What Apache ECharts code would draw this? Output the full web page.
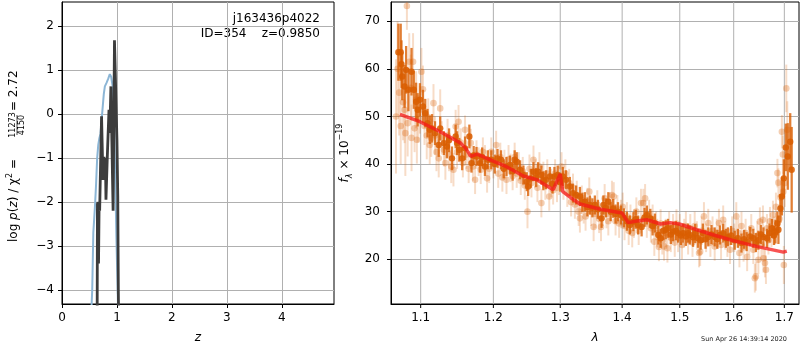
<!DOCTYPE html>
<html>
<head>
<meta charset="utf-8" />
<title>redshift fit</title>
<script src="https://cdn.jsdelivr.net/npm/echarts@6/dist/echarts.min.js"></script>
<style>
  body { margin: 0; background: #fff; }
</style>
</head>
<body>
<div id="main" style="width: 800px;height:350px;"></div>
<script type="text/javascript">
// left panel: log p(z)
var zBlue = [0.53, 0.55, 0.57, 0.60, 0.62, 0.64, 0.66, 0.68, 0.70, 0.73, 0.76, 0.78, 0.81, 0.84, 0.87, 0.895, 0.92, 0.94, 0.95, 0.96, 0.975, 0.99, 1.005, 1.02, 1.03];
var logpBlue = [-4.6, -4.0, -2.7, -2.1, -1.6, -1.0, -0.7, -0.55, -0.45, 0.0, 0.45, 0.63, 0.71, 0.8, 0.91, 0.85, 0.65, 0.2, -0.1, -0.9, -1.8, -2.8, -3.6, -4.4, -5.0];
var zDark = [0.64, 0.645, 0.655, 0.665, 0.675, 0.685, 0.72, 0.745, 0.765, 0.775, 0.79, 0.80, 0.825, 0.855, 0.87, 0.89, 0.93, 0.955, 0.985, 1.0, 1.015, 1.025, 1.03];
var logpDark = [-4.6, -2.05, -2.0, -3.4, -2.1, -2.2, -0.05, -1.5, -0.97, -1.4, -1.0, -1.95, -0.95, 0.1, -0.43, 0.63, -2.2, 1.68, 1.68, -0.6, -1.87, -4.0, -4.6];
var zTicks = [0, 1, 2, 3, 4];
var logpTicks = [-4, -3, -2, -1, 0, 1, 2];

// right panel: spectrum (two sets) and model
var darkWave = [1.071, 1.074, 1.075, 1.076, 1.079, 1.081, 1.084, 1.088, 1.091, 1.094, 1.096, 1.099, 1.103, 1.106, 1.109, 1.112, 1.115, 1.119, 1.124, 1.126, 1.131, 1.135, 1.138, 1.142, 1.147, 1.149, 1.152, 1.156, 1.160, 1.166, 1.169, 1.172, 1.176, 1.181, 1.184, 1.188, 1.192, 1.197, 1.202, 1.206, 1.211, 1.215, 1.219, 1.224, 1.228, 1.231, 1.234, 1.239, 1.244, 1.249, 1.251, 1.255, 1.259, 1.263, 1.266, 1.271, 1.274, 1.278, 1.284, 1.288, 1.291, 1.296, 1.300, 1.304, 1.309, 1.315, 1.320, 1.325, 1.331, 1.335, 1.339, 1.343, 1.347, 1.351, 1.355, 1.360, 1.366, 1.369, 1.373, 1.377, 1.381, 1.385, 1.389, 1.393, 1.398, 1.403, 1.408, 1.413, 1.419, 1.423, 1.427, 1.433, 1.438, 1.442, 1.448, 1.452, 1.456, 1.462, 1.466, 1.471, 1.475, 1.479, 1.484, 1.488, 1.493, 1.497, 1.502, 1.506, 1.511, 1.515, 1.518, 1.524, 1.528, 1.533, 1.538, 1.542, 1.547, 1.552, 1.558, 1.564, 1.569, 1.574, 1.580, 1.585, 1.589, 1.595, 1.602, 1.608, 1.615, 1.620, 1.625, 1.632, 1.638, 1.643, 1.648, 1.653, 1.658, 1.665, 1.670, 1.675, 1.679, 1.682, 1.686, 1.688, 1.692, 1.695, 1.699, 1.703, 1.707, 1.712, 1.715];
var darkFlux = [63.5, 63.5, 61.0, 58.4, 56.3, 59.8, 55.6, 59.4, 55.6, 53.1, 51.4, 53.5, 52.1, 50.7, 48.6, 47.2, 47.5, 46.5, 44.0, 47.5, 44.4, 43.7, 45.0, 41.2, 45.8, 44.4, 43.0, 41.2, 43.3, 45.8, 40.2, 41.8, 41.6, 40.2, 41.5, 39.5, 40.9, 40.9, 40.0, 41.2, 40.9, 39.0, 39.5, 39.8, 38.5, 40.9, 40.5, 38.8, 37.7, 36.3, 35.3, 37.0, 38.4, 37.2, 38.4, 37.7, 36.5, 36.7, 37.4, 35.8, 37.4, 37.7, 36.2, 37.4, 36.7, 35.3, 33.9, 33.5, 33.2, 32.0, 32.1, 31.0, 31.4, 30.8, 31.4, 30.5, 28.6, 31.4, 30.8, 32.1, 30.0, 30.7, 29.5, 30.0, 29.3, 28.7, 28.0, 27.2, 27.9, 28.4, 27.2, 26.8, 28.8, 29.3, 28.6, 27.0, 27.6, 25.1, 24.4, 26.0, 26.2, 26.5, 25.2, 25.8, 26.0, 25.5, 25.0, 25.5, 24.8, 25.5, 25.1, 24.6, 25.4, 24.4, 24.0, 25.5, 24.2, 24.7, 25.2, 24.7, 24.2, 25.1, 25.5, 24.4, 24.7, 25.0, 24.0, 24.4, 23.4, 24.2, 23.7, 24.8, 24.4, 23.5, 24.0, 25.2, 24.7, 24.4, 25.5, 26.5, 25.0, 25.8, 27.5, 26.2, 30.7, 33.2, 37.0, 43.5, 41.6, 44.7, 38.8];
var darkErr = [6, 6, 5, 5, 4.5, 5, 4.5, 5, 4, 4, 3.5, 3.5, 3.5, 3, 3, 3, 3, 2.5, 2.5, 2.5, 2.5, 2.5, 2.5, 2.5, 2.5, 2.5, 2.5, 2.5, 2.5, 2.5, 2, 2, 2, 2, 2, 2, 2, 2, 2, 2, 2, 2, 2, 2, 2, 2, 2, 2, 2, 2, 2, 2, 2, 2, 2, 2, 2, 2, 2, 2, 2, 2, 2, 2, 2, 2, 2, 2, 2, 2, 2, 2, 2, 2, 2, 2, 2, 2, 2, 2, 2, 2, 2, 2, 2, 2, 2, 2, 2, 2, 2, 2, 2, 2, 2, 2, 2, 2, 2, 2, 2, 2, 2, 2, 2, 2, 2, 2, 2, 2, 2, 2, 2, 2, 2, 2, 2, 2, 2, 2, 2, 2, 2, 2, 2, 2, 2, 2, 2, 2, 2, 2, 2, 2, 2, 2, 2, 2, 2, 2, 2, 2.5, 2.5, 3, 3, 4, 4, 5, 7, 6, 9, 15];

var lightWave = [1.068, 1.070, 1.072, 1.074, 1.077, 1.079, 1.080, 1.082, 1.083, 1.085, 1.087, 1.088, 1.090, 1.092, 1.094, 1.095, 1.097, 1.099, 1.101, 1.103, 1.105, 1.108, 1.110, 1.112, 1.114, 1.117, 1.119, 1.121, 1.124, 1.126, 1.128, 1.131, 1.133, 1.136, 1.138, 1.141, 1.144, 1.147, 1.149, 1.151, 1.154, 1.157, 1.160, 1.162, 1.165, 1.168, 1.171, 1.174, 1.176, 1.179, 1.182, 1.185, 1.188, 1.191, 1.194, 1.197, 1.200, 1.204, 1.207, 1.210, 1.213, 1.216, 1.219, 1.222, 1.225, 1.228, 1.231, 1.234, 1.237, 1.240, 1.243, 1.246, 1.250, 1.253, 1.256, 1.259, 1.262, 1.265, 1.268, 1.271, 1.274, 1.277, 1.280, 1.283, 1.286, 1.289, 1.292, 1.295, 1.298, 1.302, 1.305, 1.308, 1.311, 1.314, 1.317, 1.320, 1.323, 1.326, 1.329, 1.331, 1.334, 1.337, 1.340, 1.343, 1.346, 1.349, 1.353, 1.356, 1.359, 1.362, 1.365, 1.368, 1.371, 1.374, 1.377, 1.380, 1.383, 1.386, 1.389, 1.392, 1.395, 1.398, 1.401, 1.404, 1.408, 1.411, 1.414, 1.417, 1.420, 1.424, 1.428, 1.432, 1.436, 1.439, 1.442, 1.446, 1.449, 1.452, 1.455, 1.458, 1.460, 1.463, 1.466, 1.469, 1.472, 1.475, 1.478, 1.481, 1.484, 1.488, 1.491, 1.494, 1.497, 1.500, 1.504, 1.508, 1.511, 1.515, 1.519, 1.523, 1.527, 1.531, 1.535, 1.537, 1.540, 1.544, 1.548, 1.552, 1.556, 1.560, 1.564, 1.568, 1.572, 1.576, 1.580, 1.584, 1.588, 1.593, 1.597, 1.601, 1.605, 1.609, 1.611, 1.615, 1.619, 1.623, 1.626, 1.630, 1.634, 1.638, 1.641, 1.643, 1.646, 1.648, 1.651, 1.654, 1.657, 1.658, 1.661, 1.663, 1.665, 1.668, 1.671, 1.674, 1.677, 1.680, 1.683, 1.686, 1.688, 1.690, 1.692, 1.695, 1.697, 1.698, 1.699, 1.701, 1.704, 1.706];
var lightFlux = [50.0, 60.0, 55.0, 48.0, 53.0, 51.4, 46.5, 73.2, 48.6, 61.5, 56.0, 45.5, 61.5, 47.5, 53.5, 45.1, 49.5, 51.4, 59.4, 55.7, 48.0, 46.0, 49.8, 44.0, 45.5, 52.8, 46.0, 42.5, 41.2, 51.7, 45.5, 43.0, 40.2, 46.0, 42.0, 39.5, 38.8, 47.9, 42.5, 48.9, 44.5, 40.2, 47.2, 42.0, 39.0, 44.4, 39.5, 36.7, 42.0, 40.5, 38.8, 42.6, 41.0, 37.0, 39.0, 42.6, 40.0, 44.0, 38.0, 41.5, 37.2, 40.0, 36.7, 41.0, 39.2, 37.5, 41.5, 38.0, 39.5, 36.5, 38.5, 35.5, 30.0, 39.0, 36.0, 40.9, 38.0, 35.0, 39.5, 31.8, 37.5, 35.5, 38.0, 33.2, 36.0, 34.5, 38.0, 35.0, 36.5, 39.5, 35.5, 38.0, 34.0, 36.0, 32.0, 35.0, 31.5, 33.5, 30.0, 28.6, 32.5, 30.5, 29.0, 32.0, 34.2, 30.0, 26.8, 29.5, 31.5, 28.5, 26.8, 30.0, 32.8, 29.5, 28.0, 31.0, 33.5, 33.2, 28.0, 30.5, 27.5, 29.5, 31.0, 27.0, 29.0, 26.0, 28.5, 25.5, 27.5, 30.0, 26.0, 31.8, 31.8, 32.8, 27.5, 29.5, 26.5, 28.5, 23.7, 27.0, 25.5, 22.6, 27.5, 24.0, 22.7, 25.5, 22.3, 27.0, 24.5, 26.5, 23.5, 27.5, 24.5, 26.5, 23.0, 25.5, 27.0, 24.0, 26.5, 23.5, 27.0, 25.0, 21.3, 21.6, 26.0, 29.0, 24.5, 27.6, 23.5, 26.0, 22.7, 25.5, 27.6, 23.0, 28.3, 25.0, 23.5, 22.0, 26.0, 24.5, 29.0, 25.5, 21.3, 27.0, 22.5, 25.5, 20.5, 24.0, 26.5, 22.0, 16.0, 16.4, 25.0, 19.9, 27.9, 23.0, 28.3, 20.2, 19.2, 17.8, 26.5, 24.0, 28.0, 25.5, 29.3, 26.0, 31.0, 38.1, 36.1, 28.5, 33.0, 46.8, 42.0, 34.2, 18.8, 36.0, 55.9, 47.2];
var lightErr = [12, 10, 9, 8, 8, 7, 9, 5, 7, 6, 7, 7, 6, 5, 6, 5, 5, 5, 5, 5, 4, 5, 4, 4, 4, 4, 4, 4, 4, 4, 3.5, 3.5, 3.5, 3.5, 3.5, 3.5, 3.5, 3.5, 3.5, 3.5, 3, 3, 3, 3, 3, 3, 3, 3, 3, 3, 3, 3, 3, 3, 3, 3, 3, 3, 3, 3, 3, 3, 3, 3, 3, 3, 3, 3, 3, 3, 3, 3, 3.5, 3, 3, 3, 3, 3, 3, 3, 3, 3, 3, 3, 3, 3, 3, 3, 3, 3, 3, 3, 3, 3, 3, 3, 3, 3, 3, 3, 3, 3, 3, 3, 3, 3, 3, 3, 3, 3, 3, 3, 3, 3, 3, 3, 3, 3, 3, 3, 3, 3, 3, 3, 3, 3, 3, 3, 3, 3, 3, 3, 3, 3, 3, 3, 3, 3, 3, 3, 3, 3, 3, 3, 3, 3, 3, 3, 3, 3, 3, 3, 3, 3, 3, 3, 3, 3, 3, 3, 3, 3, 3, 3, 3, 3, 3, 3, 3, 3, 3, 3, 3, 3, 3, 3, 3, 3, 3, 3, 3, 3, 3, 3, 3, 3, 3, 3, 3, 3, 3, 3, 3, 3, 3, 3, 3, 3, 3, 3, 3, 3, 3, 3, 3, 3, 3, 3, 3, 3, 3.5, 3.5, 4, 4, 4, 5, 5, 6, 7, 8, 8, 10, 20, 12];

var modelWave = [1.073, 1.099, 1.126, 1.154, 1.161, 1.168, 1.177, 1.199, 1.219, 1.244, 1.264, 1.289, 1.300, 1.304, 1.320, 1.331, 1.364, 1.400, 1.410, 1.425, 1.442, 1.466, 1.483, 1.499, 1.531, 1.562, 1.600, 1.646, 1.698, 1.705];
var modelFlux = [50.46, 48.9, 46.8, 44.4, 43.3, 41.6, 42.1, 40.65, 39.45, 37.5, 36.7, 34.6, 37.9, 34.2, 32.6, 31.6, 30.5, 29.7, 27.7, 28.05, 28.3, 27.4, 27.7, 27.4, 26.2, 25.1, 23.9, 22.65, 21.5, 21.7];

var waveTicks = [1.1, 1.2, 1.3, 1.4, 1.5, 1.6, 1.7];
var fluxTicks = [20, 30, 40, 50, 60, 70];

var fluxMin = 10.6, fluxMax = 74.05;
var font = 'DejaVu Sans';

function pairs(xs, ys) {
  var out = [];
  for (var i = 0; i < xs.length; i++) out.push([xs[i], ys[i]]);
  return out;
}
function triples(xs, ys, es) {
  var out = [];
  for (var i = 0; i < xs.length; i++) out.push([xs[i], ys[i], es[i]]);
  return out;
}
function minusFmt(v) {
  if (Math.abs(v - Math.round(v)) > 1e-6) return '';
  return v < 0 ? '\u2212' + (-v) : '' + v;
}

// error bar + dot
function errorBars(barColor, barWidth, dotColor, r) {
  return function (params, api) {
    var x = api.value(0), y = api.value(1), e = api.value(2);
    var lo = api.coord([x, y - e]);
    var hi = api.coord([x, y + e]);
    var c = api.coord([x, y]);
    return {
      type: 'group',
      children: [
        { type: 'line', shape: { x1: lo[0], y1: lo[1], x2: hi[0], y2: hi[1] }, style: { stroke: barColor, lineWidth: barWidth } },
        { type: 'circle', shape: { cx: c[0], cy: c[1], r: r }, style: { fill: dotColor } }
      ]
    };
  };
}

// gridlines, ticks and labels for the log wavelength axis
function waveGrid(params, api) {
  var v = api.value(0);
  var top = api.coord([v, fluxMax]);
  var bot = api.coord([v, fluxMin]);
  return {
    type: 'group',
    children: [
      { type: 'line', shape: { x1: bot[0], y1: bot[1], x2: top[0], y2: top[1] }, style: { stroke: '#b0b0b0', lineWidth: 1 } },
      { type: 'line', shape: { x1: bot[0], y1: bot[1], x2: bot[0], y2: bot[1] + 4 }, style: { stroke: '#000', lineWidth: 1 } },
      { type: 'text', x: bot[0], y: bot[1] + 8, style: { text: v.toFixed(1), fontSize: 12, fontFamily: font, fill: '#000', align: 'center', verticalAlign: 'top' } }
    ]
  };
}

var myChart = echarts.init(document.getElementById('main'));

var option = {
  animation: false,
  textStyle: { fontFamily: font },
  grid: [
    { left: 62, top: 2, width: 272, height: 302, show: true, borderColor: '#000', borderWidth: 1 },
    { left: 391, top: 2, width: 408, height: 302, show: true, borderColor: '#000', borderWidth: 1 }
  ],
  xAxis: [
    {
      gridIndex: 0, type: 'value', min: 0, max: 4.95,
      name: 'z', nameLocation: 'middle', nameGap: 28,
      nameTextStyle: { fontSize: 12, fontStyle: 'italic', color: '#000' },
      axisLine: { onZero: false, lineStyle: { color: '#000' } },
      axisTick: { length: 4, lineStyle: { color: '#000' }, customValues: zTicks },
      axisLabel: { fontSize: 12, color: '#000', margin: 8, formatter: minusFmt, customValues: zTicks },
      splitLine: { show: true, lineStyle: { color: '#b0b0b0' } }
    },
    {
      gridIndex: 1, type: 'log', min: 1.0616, max: 1.7301,
      name: '\u03bb', nameLocation: 'middle', nameGap: 28,
      nameTextStyle: { fontSize: 12, fontStyle: 'italic', color: '#000' },
      axisLine: { onZero: false, lineStyle: { color: '#000' } },
      axisTick: { show: false },
      axisLabel: { show: false },
      splitLine: { show: false }
    }
  ],
  yAxis: [
    {
      gridIndex: 0, type: 'value', min: -4.32, max: 2.55,
      axisLine: { onZero: false, lineStyle: { color: '#000' } },
      axisTick: { length: 4, lineStyle: { color: '#000' }, customValues: logpTicks },
      axisLabel: { fontSize: 12, color: '#000', margin: 8, formatter: minusFmt, customValues: logpTicks },
      splitLine: { show: true, lineStyle: { color: '#b0b0b0' } }
    },
    {
      gridIndex: 1, type: 'value', min: fluxMin, max: fluxMax,
      name: '{i|f}{sub|\u03bb}{n| \u00d7 10}{sup|\u221219}',
      nameLocation: 'middle', nameGap: 36, nameRotate: 90,
      nameTextStyle: {
        color: '#000',
        rich: {
          i: { fontSize: 12, fontStyle: 'italic', lineHeight: 18, fontFamily: font },
          n: { fontSize: 12, lineHeight: 18, fontFamily: font },
          sub: { fontSize: 8, verticalAlign: 'bottom', lineHeight: 18, fontStyle: 'italic', fontFamily: font },
          sup: { fontSize: 8, verticalAlign: 'top', lineHeight: 18, fontFamily: font }
        }
      },
      axisLine: { onZero: false, lineStyle: { color: '#000' } },
      axisTick: { length: 4, lineStyle: { color: '#000' }, customValues: fluxTicks },
      axisLabel: { fontSize: 12, color: '#000', margin: 11, customValues: fluxTicks, formatter: function (v) { return v % 10 === 0 ? '' + v : ''; } },
      splitLine: { show: true, lineStyle: { color: '#b0b0b0' } }
    }
  ],
  graphic: [
    { type: 'text', right: 800 - 320, top: 13, style: { text: 'j163436p4022', fontSize: 12, fontFamily: font, fill: '#000' } },
    { type: 'text', right: 800 - 320, top: 28, style: { text: 'ID=354    z=0.9850', fontSize: 12, fontFamily: font, fill: '#000' } },
    { type: 'text', right: 13, top: 336, style: { text: 'Sun Apr 26 14:39:14 2020', fontSize: 6.5, fontFamily: font, fill: '#222' } },
    {
      type: 'group', x: 14, y: 242, rotation: Math.PI / 2,
      children: [
        {
          type: 'text', x: 0, y: 0,
          style: {
            text: '{n|log }{i|p}{n|(}{i|z}{n|) / \u03c7}{sup|2}{n| =}',
            fill: '#000', verticalAlign: 'middle', align: 'left',
            rich: {
              n: { fontSize: 12, fontFamily: font, lineHeight: 16 },
              i: { fontSize: 12, fontFamily: font, fontStyle: 'italic', lineHeight: 16 },
              sup: { fontSize: 8, fontFamily: font, verticalAlign: 'top', lineHeight: 16 }
            }
          }
        },
        { type: 'text', x: 117, y: -1, style: { text: '11273', fontSize: 8, fontFamily: font, fill: '#000', align: 'center', verticalAlign: 'middle' } },
        { type: 'line', shape: { x1: 107, y1: 3, x2: 127, y2: 3 }, style: { stroke: '#000', lineWidth: 0.7 } },
        { type: 'text', x: 117, y: 8, style: { text: '4150', fontSize: 8, fontFamily: font, fill: '#000', align: 'center', verticalAlign: 'middle' } },
        { type: 'text', x: 131, y: 0, style: { text: '= 2.72', fontSize: 12, fontFamily: font, fill: '#000', align: 'left', verticalAlign: 'middle' } }
      ]
    }
  ],
  series: [
    {
      type: 'line', xAxisIndex: 0, yAxisIndex: 0, data: pairs(zBlue, logpBlue),
      showSymbol: false, clip: true, lineStyle: { color: '#8cb6d6', width: 2 }, z: 2
    },
    {
      type: 'line', xAxisIndex: 0, yAxisIndex: 0, data: pairs(zDark, logpDark),
      showSymbol: false, clip: true, lineStyle: { color: '#3c3c3c', width: 2.8 }, z: 3
    },
    {
      type: 'custom', xAxisIndex: 1, yAxisIndex: 1, data: waveTicks.map(function (v) { return [v]; }),
      renderItem: waveGrid, silent: true, clip: false, z: 1
    },
    {
      type: 'custom', xAxisIndex: 1, yAxisIndex: 1, data: triples(lightWave, lightFlux, lightErr),
      encode: { x: 0, y: 1 }, renderItem: errorBars('rgba(217,95,2,0.22)', 2, 'rgba(217,95,2,0.3)', 3.3),
      clip: true, silent: true, z: 2
    },
    {
      type: 'custom', xAxisIndex: 1, yAxisIndex: 1, data: triples(darkWave, darkFlux, darkErr),
      encode: { x: 0, y: 1 }, renderItem: errorBars('rgba(217,95,2,0.8)', 2.3, 'rgba(217,95,2,0.88)', 3.2),
      clip: true, silent: true, z: 3
    },
    {
      type: 'line', xAxisIndex: 1, yAxisIndex: 1, data: pairs(modelWave, modelFlux),
      showSymbol: false, clip: true, lineStyle: { color: 'rgba(245,25,25,0.75)', width: 3.5 }, z: 4
    }
  ]
};

myChart.setOption(option);
</script>
</body>
</html>
